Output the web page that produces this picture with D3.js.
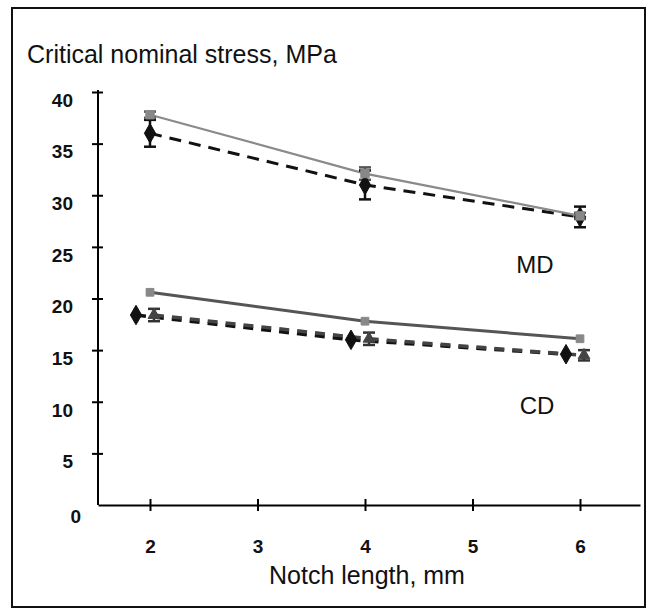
<!DOCTYPE html>
<html>
<head>
<meta charset="utf-8">
<script src="https://cdn.jsdelivr.net/npm/d3@7"></script>
<style>
  body { margin: 0; background: #fff; }
  svg { font-family: "Liberation Sans", Arial, sans-serif; }
  .axis path, .axis line { stroke: #000; stroke-width: 2; }
  .axis text { font-size: 19px; font-weight: bold; fill: #111; }
</style>
</head>
<body>
<script>
// data
var notch = [2, 4, 6];
var yTicks = [0, 5, 10, 15, 20, 25, 30, 35, 40];
var xTicks = [2, 3, 4, 5, 6];

// MD, solid grey line with squares
var mdSolid = [37.8, 32.1, 28.0];
var mdSolidErr = [0.3, 0.6, 0.3];
// MD, dashed black line with diamonds
var mdDash = [36.0, 31.0, 27.9];
var mdDashErr = [1.3, 1.4, 1.0];
// CD, solid line with squares
var cdSolid = [20.6, 17.8, 16.1];
// CD, dashed black with diamonds
var cdDia = [18.4, 16.0, 14.6];
// CD, dashed grey with triangles
var cdTri = [18.4, 16.1, 14.5];
var cdTriErr = [0.6, 0.6, 0.5];

var W = 657, H = 616;

var svg = d3.select("body").append("svg")
    .attr("width", W)
    .attr("height", H);

// frame
svg.append("rect")
    .attr("x", 12).attr("y", 8)
    .attr("width", 633).attr("height", 599)
    .attr("fill", "none")
    .attr("stroke", "#111")
    .attr("stroke-width", 2);

var x = d3.scaleLinear().domain([2, 6]).range([150, 580]);
var y = d3.scaleLinear().domain([0, 40]).range([505, 92]);

var xAxisScale = x.copy().domain([x.invert(98), x.invert(640)]).range([98, 640]);

var xAxis = d3.axisBottom(xAxisScale)
    .tickValues(xTicks)
    .tickSize(6)
    .tickSizeOuter(0)
    .tickPadding(29)
    .tickFormat(d3.format("d"));

var gx = svg.append("g")
    .attr("class", "x axis")
    .attr("transform", "translate(0," + y(0) + ")")
    .call(xAxis);
gx.selectAll(".tick line").attr("y1", -6).attr("y2", 6);
gx.selectAll(".tick text").attr("dy", "0.71em");

var yAxis = d3.axisLeft(y)
    .tickValues(yTicks)
    .tickSize(6)
    .tickSizeOuter(0)
    .tickPadding(19);

var gy = svg.append("g")
    .attr("class", "y axis")
    .attr("transform", "translate(98,0)")
    .call(yAxis);
gy.selectAll(".tick line").attr("x1", 5).attr("x2", -6);
gy.selectAll(".tick text").attr("dy", function(d) { return d === 0 ? "0.9em" : "0.75em"; });
gy.selectAll(".tick").filter(function(d) { return d === 0; }).select("text").attr("x", -17);
gy.selectAll(".tick").filter(function(d) { return d === 0; }).select("line").remove();
gy.select(".domain").attr("d", "M0," + (y(40) - 2) + "V" + y(0));

svg.append("text")
    .attr("x", 27)
    .attr("y", 63)
    .attr("font-size", 25)
    .attr("fill", "#111")
    .text("Critical nominal stress, MPa");

svg.append("text")
    .attr("x", 367)
    .attr("y", 584)
    .attr("text-anchor", "middle")
    .attr("font-size", 25)
    .attr("fill", "#111")
    .text("Notch length, mm");

svg.append("text")
    .attr("x", 535).attr("y", 273)
    .attr("text-anchor", "middle")
    .attr("font-size", 24)
    .attr("fill", "#111")
    .text("MD");

svg.append("text")
    .attr("x", 537).attr("y", 414)
    .attr("text-anchor", "middle")
    .attr("font-size", 24)
    .attr("fill", "#111")
    .text("CD");

function pts(vals, dx) {
    return notch.map(function(n, i) { return [x(n) + (dx || 0), y(vals[i])]; });
}

var line = d3.line();

function drawLine(vals, dx, color, width, dash) {
    svg.append("path")
        .attr("d", line(pts(vals, dx)))
        .attr("fill", "none")
        .attr("stroke", color)
        .attr("stroke-width", width)
        .attr("stroke-dasharray", dash || null);
}

function drawErr(vals, errs, dx, color) {
    notch.forEach(function(n, i) {
        var cx = x(n) + (dx || 0);
        var g = svg.append("g").attr("stroke", color).attr("stroke-width", 2.5);
        g.append("line").attr("x1", cx).attr("x2", cx)
            .attr("y1", y(vals[i] + errs[i])).attr("y2", y(vals[i] - errs[i]));
        [vals[i] + errs[i], vals[i] - errs[i]].forEach(function(v) {
            g.append("line").attr("x1", cx - 6).attr("x2", cx + 6)
                .attr("y1", y(v)).attr("y2", y(v));
        });
    });
}

function drawMarks(vals, dx, shape, color, size) {
    var sym = d3.symbol().type(shape).size(size);
    svg.selectAll(null)
        .data(pts(vals, dx))
        .enter().append("path")
        .attr("transform", function(d) { return "translate(" + d[0] + "," + d[1] + ")"; })
        .attr("d", sym)
        .attr("fill", color)
        .attr("stroke", color)
        .attr("stroke-width", 1);
}

// MD
drawLine(mdDash, 0, "#111", 3, "12,8");
drawLine(mdSolid, 0, "#8a8a8a", 2.2);
drawErr(mdDash, mdDashErr, 0, "#111");
drawErr(mdSolid, mdSolidErr, 0, "#555");
drawMarks(mdDash, 0, d3.symbolDiamond, "#111", 110);
drawMarks(mdSolid, 0, d3.symbolSquare, "#888", 70);

// CD
drawLine(cdDia, -14, "#111", 3.5, "10,8");
drawLine(cdTri, 4, "#444", 3.5, "10,8");
drawLine(cdSolid, 0, "#555", 3);
drawErr(cdTri, cdTriErr, 4, "#333");
drawMarks(cdDia, -14, d3.symbolDiamond, "#111", 110);
drawMarks(cdTri, 4, d3.symbolTriangle, "#444", 60);
drawMarks(cdSolid, 0, d3.symbolSquare, "#888", 60);
</script>
</body>
</html>
